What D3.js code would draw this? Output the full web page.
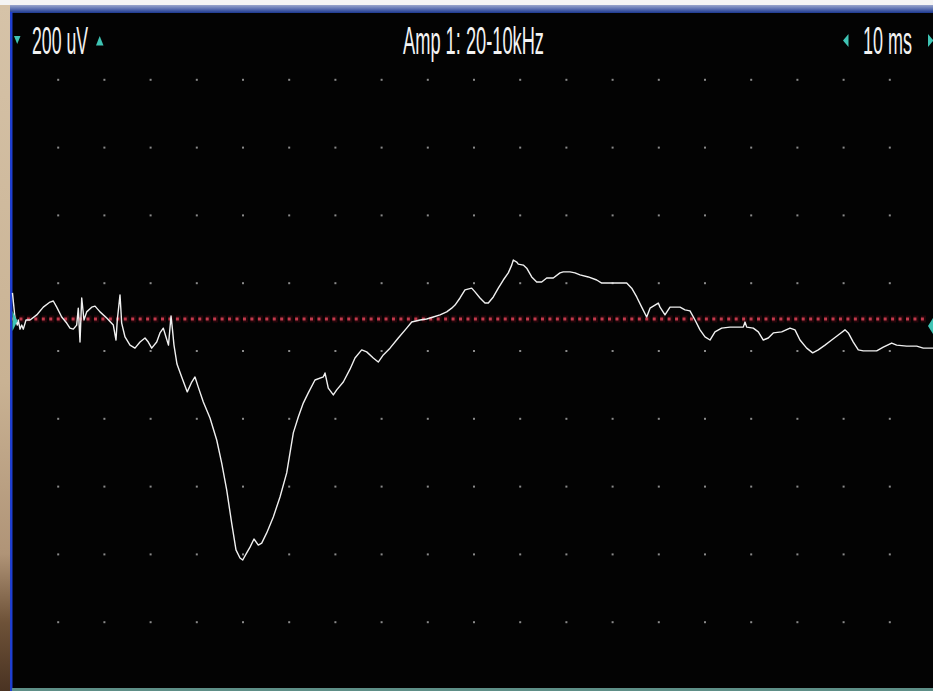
<!DOCTYPE html>
<html>
<head>
<meta charset="utf-8">
<script src="https://cdn.jsdelivr.net/npm/d3@7"></script>
<style>
html,body{margin:0;padding:0;background:#f4f4f4;overflow:hidden;}
svg{display:block;}
</style>
</head>
<body>
<svg id="chart" width="933" height="691"></svg>
<script>
// ---- data (time in ms, amplitude in uV relative to baseline) ----
const timeMs = [0.1,0.65,1.15,1.36,1.73,2.1,2.45,3.03,3.9,5.35,6.77,8.23,8.94,9.68,10.76,11.84,12.55,13.27,14.0,14.35,14.72,15.09,15.58,16.17,17.25,17.97,19.05,20.5,21.93,22.51,22.79,23.38,23.74,24.46,25.54,26.62,27.71,28.79,29.5,30.24,31.32,32.03,32.75,33.33,33.87,34.42,34.74,35.06,35.71,36.73,37.94,38.9,39.61,40.32,41.41,42.86,44.31,45.39,46.47,47.55,48.48,49.35,49.94,50.8,51.52,52.38,53.31,54.05,55.13,56.56,58.01,59.46,60.89,61.97,63.05,64.13,65.58,67.38,67.75,68.46,69.55,70.28,71.71,73.16,74.24,75.69,76.77,78.2,79.28,80.37,81.82,83.61,85.43,86.52,88.31,89.76,91.19,92.64,94.09,95.17,95.89,96.97,98.05,99.5,100.22,101.3,102.38,103.1,104.18,105.26,106.34,107.42,108.16,108.51,109.24,109.59,110.67,111.41,112.49,113.57,114.65,115.74,117.16,118.61,119.33,120.78,121.86,122.94,124.74,126.56,127.64,130.15,133.05,134.13,135.22,136.3,137.38,138.1,139.18,139.89,140.26,141.34,142.42,144.59,145.67,146.75,147.84,148.92,150.0,151.08,152.16,153.61,155.41,158.29,158.66,159.03,160.45,161.54,162.62,163.7,164.78,166.6,168.4,169.48,170.56,172.01,173.31,174.52,175.97,177.42,178.85,180.3,181.02,182.1,183.18,184.26,187.16,188.59,190.41,191.49,193.65,195.82,197.25,199.35];
const amplitudeUv = [77,3,-18,-3,-30,-18,-30,-3,-3,12,35,50,53,35,6,-12,-27,-30,-18,32,-68,62,-3,21,35,38,21,3,-18,-62,-3,71,-12,-53,-77,-86,-68,-56,-68,-86,-68,-41,-27,-53,-77,9,-32,-77,-133,-171,-215,-186,-171,-201,-245,-292,-357,-425,-504,-602,-681,-705,-711,-690,-673,-649,-667,-661,-631,-584,-525,-454,-336,-289,-248,-218,-180,-171,-159,-204,-224,-209,-186,-148,-115,-91,-97,-115,-127,-106,-86,-56,-27,-9,-3,0,6,12,21,32,41,62,86,91,80,62,47,47,65,91,115,136,159,174,168,162,159,150,124,109,109,121,121,136,139,139,136,130,124,115,106,106,106,91,65,35,6,32,41,47,35,12,35,35,27,24,-3,-32,-53,-62,-38,-27,-24,-24,-9,-24,-27,-38,-62,-56,-41,-38,-27,-32,-62,-86,-100,-91,-77,-62,-47,-32,-41,-68,-91,-94,-94,-83,-71,-77,-80,-80,-86,-86];
const gridTimes = [10,20,30,40,50,60,70,80,90,100,110,120,130,140,150,160,170,180,190];
const gridDivisions = [1,2,3,4,5,6,7,8,9];
const voltLabel = "200 uV";
const titleLabel = "Amp 1: 20-10kHz";
const timeLabel = "10 ms";

// ---- layout ----
const svg = d3.select("#chart");
const plot = {left: 12, right: 936, top: 12, bottom: 690};
const x = d3.scaleLinear().domain([0, 200]).range([plot.left, plot.right]);
const y = d3.scaleLinear().domain([-1094.4, 905.6]).range([plot.bottom, plot.top]);
const divY = d3.scaleLinear().domain([0, 10]).range([plot.top, plot.bottom]);

const defs = svg.append("defs");
const lg = defs.append("linearGradient").attr("id","bgLeft").attr("x1",0).attr("y1",0).attr("x2",0).attr("y2",1);
[[0,"#d6c3a8"],[0.55,"#c9b293"],[0.8,"#b09477"],[0.9,"#6e5238"],[1,"#4a3322"]].forEach(s=>lg.append("stop").attr("offset",s[0]).attr("stop-color",s[1]));
const tg = defs.append("linearGradient").attr("id","topBar").attr("x1",0).attr("y1",0).attr("x2",0).attr("y2",1);
[[0,"#9aa6cc"],[0.5,"#5a6fb0"],[1,"#1d3990"]].forEach(s=>tg.append("stop").attr("offset",s[0]).attr("stop-color",s[1]));

// background pieces
svg.append("rect").attr("x",0).attr("y",0).attr("width",933).attr("height",691).attr("fill","#f4f4f4");
svg.append("rect").attr("x",0).attr("y",5).attr("width",11).attr("height",686).attr("fill","url(#bgLeft)");
svg.append("rect").attr("x",10).attr("y",12).attr("width",923).attr("height",679).attr("fill","#030303");
svg.append("rect").attr("x",10).attr("y",5).attr("width",923).attr("height",8).attr("fill","url(#topBar)");
svg.append("rect").attr("x",10).attr("y",12).attr("width",2.5).attr("height",679).attr("fill","#1f3fd0");
svg.append("rect").attr("x",12).attr("y",688).attr("width",921).attr("height",3).attr("fill","#5e8f87");

// grid dots
const g = svg.append("g");
gridTimes.forEach(t => {
  gridDivisions.forEach(d => {
    g.append("rect").attr("x", x(t) - 1).attr("y", divY(d) - 1)
      .attr("width", 2).attr("height", 2).attr("fill", "#8a8a8a");
  });
});

// baseline dotted red line
svg.append("line").attr("x1", x(0)).attr("x2", 928).attr("y1", y(0)).attr("y2", y(0))
  .attr("stroke", "#3a0810").attr("stroke-width", 7).attr("stroke-dasharray", "5,2.45").attr("opacity", 0.6);
svg.append("line").attr("x1", x(0)).attr("x2", 928).attr("y1", y(0)).attr("y2", y(0))
  .attr("stroke", "#c23a4c").attr("stroke-width", 3).attr("stroke-dasharray", "3,4.45");

// trace
const pts = timeMs.map((t, i) => [t, amplitudeUv[i]]);
const line = d3.line().x(d => x(d[0])).y(d => y(d[1]));
svg.append("path").datum(pts).attr("d", line).attr("fill", "none")
  .attr("stroke", "#f0f0f0").attr("stroke-width", 1.4).attr("stroke-linejoin", "round");

// markers
const teal = "#3fc4b4";
const tri = (p) => svg.append("polygon").attr("points", p.map(q => q.join(",")).join(" ")).attr("fill", teal);
tri([[14,36],[20.5,36],[17.2,44]]);
tri([[96,45.5],[103.5,45.5],[99.7,36]]);
tri([[848.5,34],[848.5,47],[843,40.5]]);
tri([[928,34],[928,47],[933.5,40.5]]);
tri([[12.5,311],[12.5,331],[17.5,321]]);
tri([[933,318],[933,334],[928,326]]);

// texts
const font = "'Liberation Sans Narrow','Liberation Sans',Arial,sans-serif";
function label(txt, x0, x1) {
  svg.append("text").attr("x", x0).attr("y", 53.5).text(txt)
    .attr("font-family", font).attr("font-size", 39).attr("fill", "#f2f2f2")
    .attr("textLength", x1 - x0).attr("lengthAdjust", "spacingAndGlyphs");
}
label(voltLabel, 32, 88);
label(titleLabel, 403, 544);
label(timeLabel, 863, 912);
</script>
</body>
</html>
